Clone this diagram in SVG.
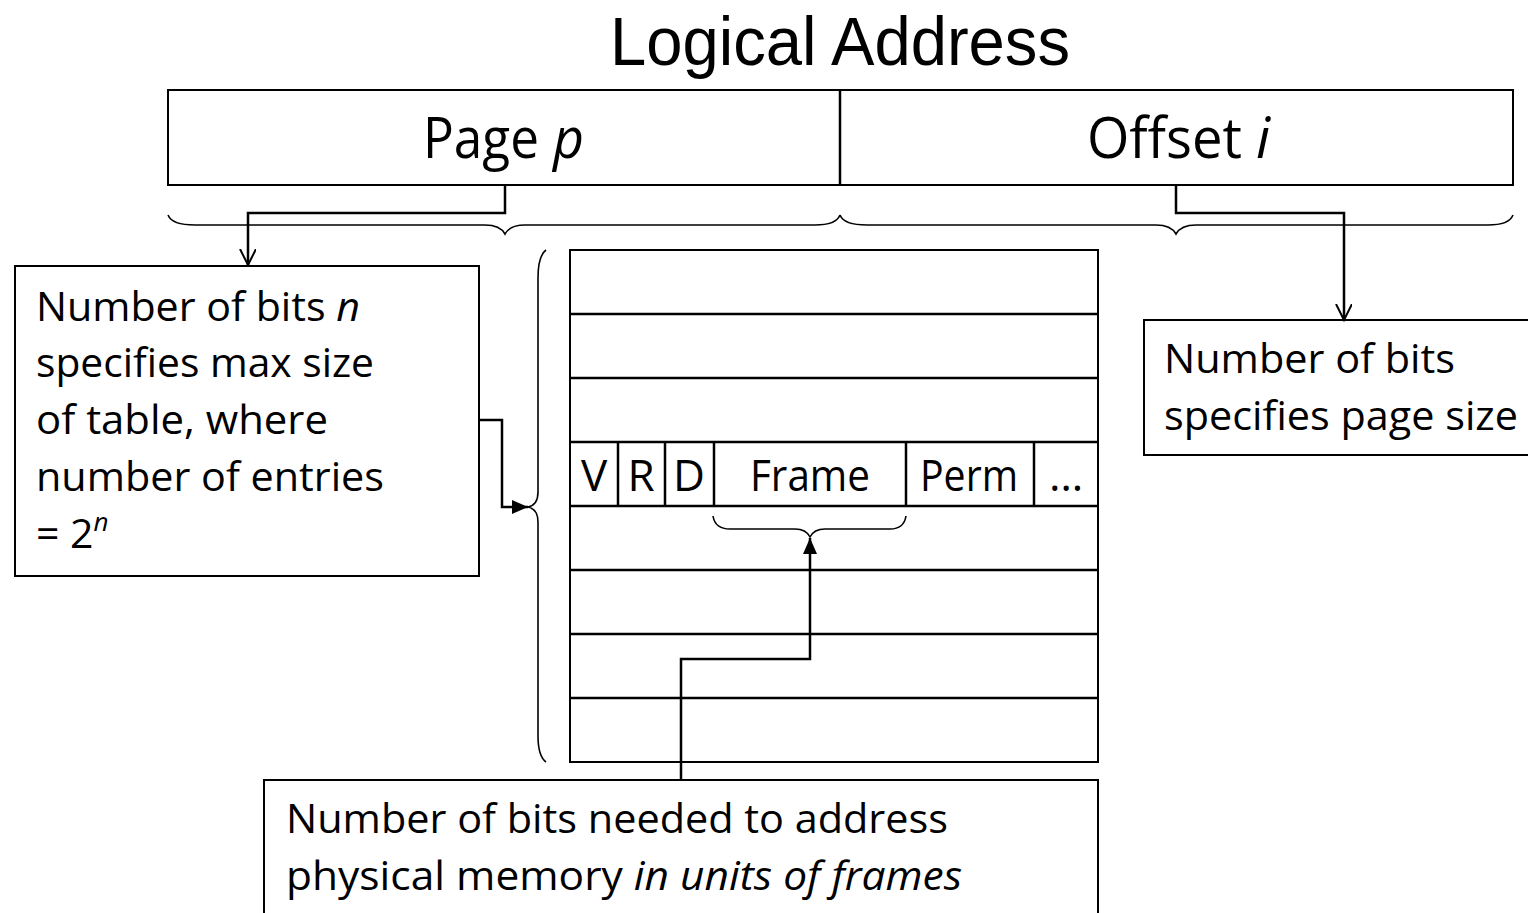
<svg xmlns="http://www.w3.org/2000/svg" width="1528" height="913" viewBox="0 0 1528 913">
<defs>
<style>
.t{font-family:"Open Sans","Liberation Sans",sans-serif;fill:#000}
.box{fill:#fff;stroke:#000;stroke-width:2}
.ln{fill:none;stroke:#000;stroke-width:2.5}
.br{fill:none;stroke:#000;stroke-width:1.6}
.i{font-style:italic}
</style>
<marker id="open" markerWidth="20" markerHeight="20" refX="16" refY="8" orient="auto" markerUnits="userSpaceOnUse">
<path d="M0,0 L16,8 L0,16" fill="none" stroke="#000" stroke-width="2"/>
</marker>
<marker id="fill" markerWidth="20" markerHeight="20" refX="16" refY="7" orient="auto" markerUnits="userSpaceOnUse">
<path d="M0,0 L16,7 L0,14 Z" fill="#000"/>
</marker>
</defs>
<rect width="1528" height="913" fill="#fff"/>

<g id="title">
<text x="610" y="65" font-family="'Liberation Sans', Arial, sans-serif" font-size="69" textLength="460" lengthAdjust="spacingAndGlyphs">Logical Address</text>
</g>

<g id="logical-address">
<rect class="box" x="168" y="90" width="1345" height="95"/>
<line class="ln" x1="840" y1="90" x2="840" y2="185" stroke-width="2"/>
<text class="t" x="423" y="158" font-size="56" textLength="116" lengthAdjust="spacingAndGlyphs">Page</text>
<text class="t i" x="553" y="158" font-size="56" textLength="31" lengthAdjust="spacingAndGlyphs">p</text>
<text class="t" x="1087" y="158" font-size="56" textLength="155" lengthAdjust="spacingAndGlyphs">Offset</text>
<text class="t i" x="1256" y="158" font-size="56">i</text>
</g>

<g id="n-bits-box">
<rect class="box" x="15" y="266" width="464" height="310"/>
<text class="t" x="36" y="321" font-size="41" textLength="324" lengthAdjust="spacingAndGlyphs">Number of bits <tspan class="i">n</tspan></text>
<text class="t" x="36" y="377" font-size="41" textLength="338" lengthAdjust="spacingAndGlyphs">specifies max size</text>
<text class="t" x="36" y="434" font-size="41" textLength="292" lengthAdjust="spacingAndGlyphs">of table, where</text>
<text class="t" x="36" y="491" font-size="41" textLength="348" lengthAdjust="spacingAndGlyphs">number of entries</text>
<text class="t" x="36" y="548" font-size="41">= 2<tspan class="i" font-size="26" dy="-17">n</tspan></text>
</g>

<g id="page-size-box">
<rect class="box" x="1144" y="320" width="400" height="135"/>
<text class="t" x="1164" y="373" font-size="41" textLength="291" lengthAdjust="spacingAndGlyphs">Number of bits</text>
<text class="t" x="1164" y="430" font-size="41" textLength="354" lengthAdjust="spacingAndGlyphs">specifies page size</text>
</g>

<g id="page-table">
<rect class="box" x="570" y="250" width="528" height="512"/>
<g class="ln" stroke-width="2">
<line x1="570" y1="314" x2="1098" y2="314"/>
<line x1="570" y1="378" x2="1098" y2="378"/>
<line x1="570" y1="442" x2="1098" y2="442"/>
<line x1="570" y1="506" x2="1098" y2="506"/>
<line x1="570" y1="570" x2="1098" y2="570"/>
<line x1="570" y1="634" x2="1098" y2="634"/>
<line x1="570" y1="698" x2="1098" y2="698"/>
<line x1="618" y1="442" x2="618" y2="506"/>
<line x1="665" y1="442" x2="665" y2="506"/>
<line x1="714" y1="442" x2="714" y2="506"/>
<line x1="906" y1="442" x2="906" y2="506"/>
<line x1="1034" y1="442" x2="1034" y2="506"/>
</g>
<g class="t" font-size="44" text-anchor="middle">
<text x="594" y="491">V</text>
<text x="641" y="491">R</text>
<text x="689" y="491">D</text>
<text x="810" y="491" textLength="120" lengthAdjust="spacingAndGlyphs">Frame</text>
<text x="969" y="491" textLength="98" lengthAdjust="spacingAndGlyphs">Perm</text>
<text x="1066" y="491">…</text>
</g>
</g>

<g id="frame-bits-box">
<rect class="box" x="264" y="780" width="834" height="150"/>
<text class="t" x="286" y="833" font-size="41" textLength="662" lengthAdjust="spacingAndGlyphs">Number of bits needed to address</text>
<text class="t" x="286" y="890" font-size="41" textLength="676" lengthAdjust="spacingAndGlyphs">physical memory <tspan class="i">in units of frames</tspan></text>
</g>

<g id="braces">
<path class="br" d="M168,215 Q172,225 195,225 L485,225 Q500,225 505,234 Q510,225 525,225 L815,225 Q836,225 840,215"/>
<path class="br" d="M840,215 Q844,225 867,225 L1156,225 Q1171,225 1176,234 Q1181,225 1196,225 L1488,225 Q1509,225 1513,215"/>
<path class="br" d="M546,250 Q538,256 538,278 L538,492 Q538,505 528,507 Q538,509 538,522 L538,736 Q538,756 546,762"/>
<path class="br" d="M713,516 Q715,529 730,529 L795,529 Q806,529 810,537 Q814,529 825,529 L890,529 Q904,529 906,516"/>
</g>

<g id="connectors">
<polyline class="ln" points="505,185 505,213 248,213 248,265" marker-end="url(#open)"/>
<polyline class="ln" points="1176,185 1176,213 1344,213 1344,320" marker-end="url(#open)"/>
<polyline class="ln" points="479,420 502,420 502,507 528,507" marker-end="url(#fill)"/>
<polyline class="ln" points="681,780 681,659 810,659 810,538" marker-end="url(#fill)"/>
</g>
</svg>
